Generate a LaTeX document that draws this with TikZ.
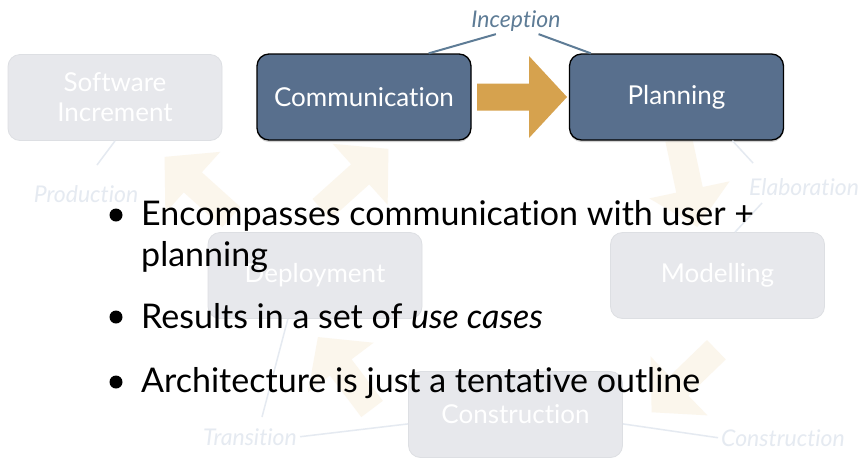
\documentclass[tikz,border=0pt]{standalone}
\usepackage{fontspec}
\setmainfont{Lato}[Ligatures=NoCommon]
\usepackage{tikz}
\usetikzlibrary{shadows}
\definecolor{phaseblue}{RGB}{88,111,141}
\definecolor{inceptblue}{RGB}{94,124,150}
\definecolor{flowgold}{RGB}{214,162,78}
\definecolor{fadegold}{RGB}{251,246,236}
\definecolor{fadebox}{RGB}{231,232,236}
\definecolor{fadeedge}{RGB}{221,223,227}
\definecolor{fadetext}{RGB}{229,234,241}

\tikzset{
  pics/flowarrow/.style={code={
    \fill (-45,-13.5) -- (7,-13.5) -- (7,-41) -- (45,0) -- (7,41) -- (7,13.5) -- (-45,13.5) -- cycle;}}
}

\begin{document}
\begin{tikzpicture}[x=1pt, y=-1pt,
    activity/.style={rectangle, rounded corners=12pt, minimum width=214pt, minimum height=86pt, align=center, font=\fontsize{26}{30}\selectfont},
    currentbox/.style={activity, draw=black, line width=1.3pt, fill=phaseblue, text=white, drop shadow={opacity=0.35, shadow xshift=0pt, shadow yshift=-2pt}},
    fadedbox/.style={activity, draw=fadeedge, line width=0.8pt, fill=fadebox, text=white},
    phaselabel/.style={font=\fontsize{23}{27}\selectfont\itshape, text=fadetext, inner sep=3pt, anchor=base},
    faintline/.style={draw=fadetext, line width=1.5pt},
    inceptline/.style={draw=inceptblue, line width=2pt},
    bullettext/.style={anchor=base west, inner sep=0pt, font=\fontsize{34}{40}\selectfont},
    bulletdot/.style={circle, fill=black, inner sep=0pt, minimum size=13pt}]
    \fill[white] (0,0) rectangle (861,459);
    \useasboundingbox (0,0) rectangle (861,459);

    % the cycle, faded
    \pic[fill=fadegold, rotate=138] at (198,187) {flowarrow};
    \pic[fill=fadegold, rotate=42] at (355,179) {flowarrow};
    \pic[fill=fadegold, rotate=-78] at (688,183) {flowarrow};
    \pic[fill=fadegold, rotate=224] at (684,381) {flowarrow};
    \pic[fill=fadegold, rotate=127] at (345,373) {flowarrow};
    \pic[fill=flowgold] at (522,97) {flowarrow};

    \node[fadedbox] (swinc) at (115,97.5) {Software\\Increment};
    \node[currentbox] (comm) at (364,97) {Communication};
    \node[currentbox] (plan) at (676.5,97) {Planning};
    \node[fadedbox] (deploy) at (315,275.5) {Deployment};
    \node[fadedbox] (model) at (717.5,275.5) {Modelling};
    \node[fadedbox] (cons) at (515.5,414.5) {Construction};

    \node[phaselabel, text=inceptblue] (incep) at (516,27) {Inception};
    \node[phaselabel] (prod) at (86,202) {Production};
    \node[phaselabel] (elab) at (804,195) {Elaboration};
    \node[phaselabel] (trans) at (250,445) {Transition};
    \node[phaselabel] (conslbl) at (783,446) {Construction};

    \coordinate (prodtip) at (97,165);
    \coordinate (elabtop) at (753,163);
    \coordinate (elabbot) at (762,203);
    \coordinate (transtop) at (262,417);

    \draw[inceptline] (incep.-146) -- (comm.34);
    \draw[inceptline] (incep.-31) -- (plan.153);
    \draw[faintline] (swinc.south) -- (prodtip);
    \draw[faintline] (plan.-38) -- (elabtop);
    \draw[faintline] (elabbot) -- (model.68);
    \draw[faintline] (transtop) -- (deploy.-122);
    \draw[faintline] (trans.east) -- (cons.-175);
    \draw[faintline] (cons.-5) -- (conslbl.west);

    % bullet points on top
    \node[bulletdot] (d1) at (116,215) {};
    \node[bullettext] (t1) at (141,225) {Encompasses communication with user +};
    \node[bullettext] (t1b) at (141,266) {planning};
    \node[bulletdot] (d2) at (116,317) {};
    \node[bullettext] (t2) at (141,328) {Results in a set of \textit{use cases}};
    \node[bulletdot] (d3) at (116,382) {};
    \node[bullettext] (t3) at (141,392) {Architecture is just a tentative outline};
\end{tikzpicture}
\end{document}
